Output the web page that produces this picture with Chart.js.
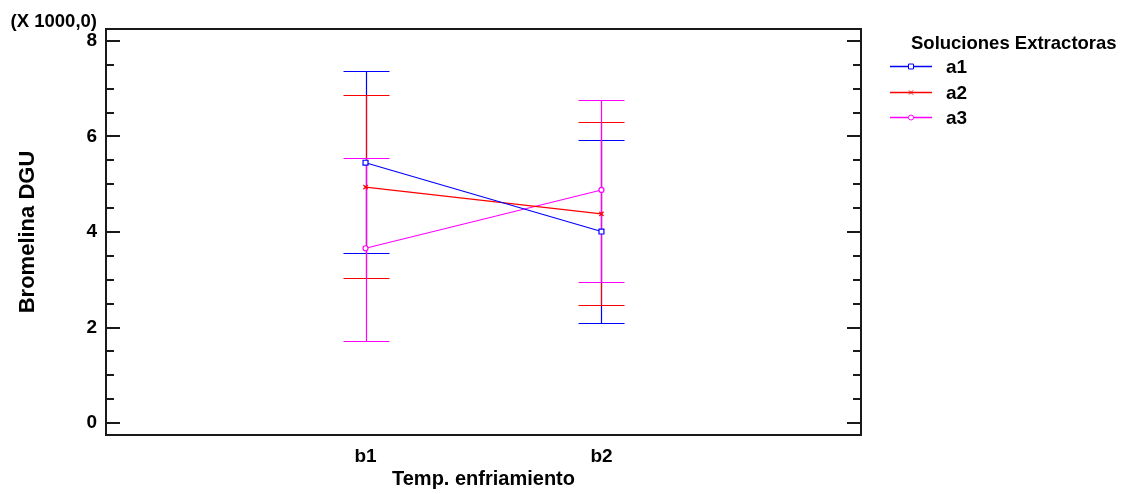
<!DOCTYPE html>
<html>
<head>
<meta charset="utf-8">
<script src="https://cdn.jsdelivr.net/npm/chart.js@4.4.1/dist/chart.umd.min.js"></script>
<style>
  html, body { margin: 0; padding: 0; background: #fff; }
  #wrap { width: 1124px; height: 494px; }
</style>
</head>
<body>
<div id="wrap"><canvas id="c" width="1124" height="494"></canvas></div>
<script>
// Interaction plot: Bromelina DGU by cooling temperature, one line per extraction solution
const categories = ['b1', 'b2'];
const seriesNames = ['a1', 'a2', 'a3'];
const seriesColors = ['#0000ff', '#ff0000', '#ff00ff'];
const seriesMarkers = ['rect', 'crossRot', 'circle'];
const markerRadius = [3.5, 3, 2.5];

// Means and interval limits (DGU)
const a1Mean = [5450, 4010];
const a1Low  = [3550, 2090];
const a1High = [7370, 5930];
const a2Mean = [4940, 4380];
const a2Low  = [3040, 2480];
const a2High = [6870, 6300];
const a3Mean = [3660, 4880];
const a3Low  = [1720, 2950];
const a3High = [5550, 6760];

const yMajorTicks = [0, 2000, 4000, 6000, 8000];
const yMinorTicks = [500, 1000, 1500, 2500, 3000, 3500, 4500, 5000, 5500, 6500, 7000, 7500];

const means = [a1Mean, a2Mean, a3Mean];
const lows = [a1Low, a2Low, a3Low];
const highs = [a1High, a2High, a3High];

const FONT = 'Liberation Sans, Arial, Helvetica, sans-serif';
const tickFont = { family: FONT, size: 19, weight: 'bold' };
const xTitleFont = { family: FONT, size: 20, weight: 'bold' };
const yTitleFont = { family: FONT, size: 22, weight: 'bold' };
const INK = '#1a1a1a';

// Interval bars with caps, drawn under the mean markers
const errorBars = {
  id: 'errorBars',
  beforeDatasetsDraw(chart) {
    const { ctx, scales: { x, y } } = chart;
    const cap = 23;
    ctx.save();
    ctx.lineWidth = 1.2;
    seriesNames.forEach((name, s) => {
      ctx.strokeStyle = seriesColors[s];
      categories.forEach((c, i) => {
        const px = Math.round(x.getPixelForValue(i + 1)) + 0.5;
        const yl = Math.round(y.getPixelForValue(lows[s][i])) + 0.5;
        const yh = Math.round(y.getPixelForValue(highs[s][i])) + 0.5;
        ctx.beginPath();
        ctx.moveTo(px, yl); ctx.lineTo(px, yh);
        ctx.moveTo(px - cap, yl); ctx.lineTo(px + cap, yl);
        ctx.moveTo(px - cap, yh); ctx.lineTo(px + cap, yh);
        ctx.stroke();
      });
    });
    ctx.restore();
  }
};

// Plot frame, inward ticks on both sides, scale note and legend
const frame = {
  id: 'frame',
  afterDraw(chart) {
    const { ctx, chartArea: a, scales: { y } } = chart;
    ctx.save();
    ctx.strokeStyle = INK;
    ctx.lineWidth = 2;
    ctx.strokeRect(a.left, a.top, a.right - a.left, a.bottom - a.top);
    ctx.beginPath();
    yMajorTicks.forEach(v => {
      const py = Math.round(y.getPixelForValue(v));
      ctx.moveTo(a.left, py); ctx.lineTo(a.left + 14, py);
      ctx.moveTo(a.right, py); ctx.lineTo(a.right - 14, py);
    });
    yMinorTicks.forEach(v => {
      const py = Math.round(y.getPixelForValue(v));
      ctx.moveTo(a.left, py); ctx.lineTo(a.left + 8, py);
      ctx.moveTo(a.right, py); ctx.lineTo(a.right - 8, py);
    });
    ctx.stroke();

    ctx.fillStyle = '#000';
    ctx.font = 'bold 18.5px ' + FONT;
    ctx.textBaseline = 'middle';
    ctx.textAlign = 'right';
    ctx.fillText('(X 1000,0)', 97, 22);

    // legend
    ctx.textAlign = 'left';
    ctx.font = 'bold 18.5px ' + FONT;
    ctx.fillText('Soluciones Extractoras', 911, 44);
    ctx.font = 'bold 19px ' + FONT;
    const rows = [66, 92, 117];
    seriesNames.forEach((name, s) => {
      const ly = rows[s] + 0.5;
      ctx.strokeStyle = seriesColors[s];
      ctx.lineWidth = 1.5;
      ctx.beginPath();
      ctx.moveTo(890, ly); ctx.lineTo(932, ly);
      ctx.stroke();
      ctx.fillStyle = '#fff';
      ctx.lineWidth = 1;
      Chart.helpers.drawPoint(ctx, { pointStyle: seriesMarkers[s], radius: markerRadius[s], rotation: 0, borderWidth: 1 }, 911, ly);
      ctx.fillStyle = '#000';
      ctx.fillText(name, 946, rows[s] + 2);
    });
    ctx.restore();
  }
};

const datasets = seriesNames.map((name, s) => ({
  label: name,
  data: categories.map((c, i) => ({ x: i + 1, y: means[s][i] })),
  borderColor: seriesColors[s],
  backgroundColor: '#ffffff',
  borderWidth: 1.2,
  pointStyle: seriesMarkers[s],
  pointRadius: markerRadius[s],
  pointBorderWidth: 1.2,
  pointBorderColor: seriesColors[s],
  pointBackgroundColor: '#ffffff',
  tension: 0,
  fill: false
}));

new Chart(document.getElementById('c'), {
  type: 'line',
  data: { datasets },
  options: {
    responsive: false,
    animation: false,
    devicePixelRatio: 1,
    layout: { padding: { left: 0, right: 263, top: 29, bottom: 0 } },
    plugins: { legend: { display: false }, tooltip: { enabled: false } },
    scales: {
      x: {
        type: 'linear',
        min: -0.1,
        max: 3.1,
        grid: { display: false, drawTicks: false },
        border: { display: false },
        afterBuildTicks: s => { s.ticks = categories.map((c, i) => ({ value: i + 1 })); },
        afterFit: s => { s.height = 59; },
        ticks: {
          callback: v => categories[v - 1],
          font: tickFont, color: '#000', padding: 10,
          maxRotation: 0, autoSkip: false
        },
        title: {
          display: true, text: 'Temp. enfriamiento',
          font: xTitleFont, color: '#000', padding: { top: 0, bottom: 3 }
        }
      },
      y: {
        type: 'linear',
        min: -250,
        max: 8250,
        grid: { display: false, drawTicks: false },
        border: { display: false },
        afterBuildTicks: s => { s.ticks = yMajorTicks.map(v => ({ value: v })); },
        afterFit: s => { s.width = 106; },
        ticks: {
          callback: v => String(v / 1000),
          font: tickFont, color: '#000', padding: 9
        },
        title: {
          display: true, text: 'Bromelina DGU',
          font: yTitleFont, color: '#000', padding: { top: 15, bottom: 0 }
        }
      }
    }
  },
  plugins: [errorBars, frame]
});
</script>
</body>
</html>
